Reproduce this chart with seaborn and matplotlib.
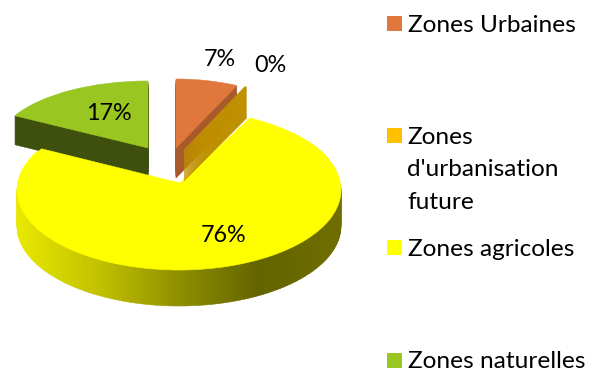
import numpy as np
import matplotlib
matplotlib.use("Agg")
import matplotlib.pyplot as plt
from matplotlib.colors import LinearSegmentedColormap
from matplotlib.patches import Rectangle
from matplotlib.transforms import Affine2D
import seaborn as sns

# ---- data ----
categories = ["Zones Urbaines", "Zones\nd'urbanisation\nfuture", "Zones agricoles", "Zones naturelles"]
values = [7.0, 0.2, 75.8, 17.0]

# ---- style ----
sns.set_theme(style="white")
plt.rcParams["font.family"] = ["Lato", "DejaVu Sans"]
top_colors = sns.color_palette(["#E0783E", "#BF9000", "#FFFF00", "#99C621"])
wall_colors = sns.color_palette(["#A85A2C", "#BF9000", "#8B8B00", "#3F4F0D"])
swatch_colors = sns.color_palette(["#E0783E", "#FFC000", "#FFFF00", "#99C621"])
shade = LinearSegmentedColormap.from_list(
    "wall", [(0.0, "#E8E800"), (0.25, "#C2C200"), (0.5, "#8F8F00"), (0.75, "#636300"), (1.0, "#6E6E00")])

W, H = 596, 372
fig = plt.figure(figsize=(W / 100, H / 100), dpi=100)
ax = fig.add_axes([0, 0, 1, 1])


def place(wedge, cx, cy, rx, ry):
    wedge.set_transform(Affine2D().scale(rx, ry).translate(cx, H - cy) + ax.transData)


def slice_layers(idx, cx, cy, rx, ry, depth):
    """Stack the slice idx of the pie downward to make its side, then lay its top."""
    for k in list(range(depth, 0, -1)) + [0]:
        col = top_colors[idx] if k == 0 else wall_colors[idx]
        wedges, _ = ax.pie(values, startangle=90, counterclock=False, colors=[col] * len(values),
                           wedgeprops=dict(linewidth=0.4, edgecolor=col))
        for j, w in enumerate(wedges):
            if j == idx:
                place(w, cx, cy + k, rx, ry)
            else:
                w.remove()


def agri_wall(cx, cy, rx, ry, depth, n=180):
    """Curved side of the large slice: the slice split in equal parts, shaded from left to right."""
    parts = [values[0] + values[1]] + [values[2] / n] * n + [values[3]]
    for k in range(depth, 0, -1):
        wedges, _ = ax.pie(parts, startangle=90, counterclock=False)
        for j, w in enumerate(wedges):
            mid = np.deg2rad((w.theta1 + w.theta2) / 2)
            if j in (0, n + 1) or np.sin(mid) > 0.05:
                w.remove()
                continue
            col = shade((np.cos(mid) + 1) / 2)
            w.set_facecolor(col)
            w.set_edgecolor(col)
            w.set_linewidth(0.4)
            place(w, cx, cy + k, rx, ry)


# far-left slice first: the big slice overlaps its side
slice_layers(3, 148, 148, 152, 67, 29)

# big slice
agri_wall(179, 190, 162, 80, 36)
slice_layers(2, 179, 190, 162, 80, 0)
# the converging point of the slice sits higher than the ellipse centre (perspective)
slice_layers(2, 180, 183, 158, 71, 0)

# exploded small slices
slice_layers(0, 176, 148, 143, 69, 30)
slice_layers(1, 184, 150, 143, 70, 31)

# data labels
label_xy = [(220, 60), (270, 66), (224, 236), (109, 113)]
for v, (x, y) in zip(values, label_xy):
    ax.text(x, H - y, f"{v:.0f}%", ha="center", va="center", fontsize=16.8, color="black")

# legend entries
swatch_y = [23.5, 135.5, 247.5, 360.5]
text_y = [26, 170, 250, 362]
for name, col, sy, ty in zip(categories, swatch_colors, swatch_y, text_y):
    ax.add_patch(Rectangle((387, H - sy - 7.5), 15, 15, facecolor=col, edgecolor="none"))
    ax.text(407.5, H - ty, name, ha="left", va="center", fontsize=17.6, color="black", linespacing=1.68)

ax.set_aspect("auto")
ax.set_xlim(0, W)
ax.set_ylim(0, H)
ax.set_axis_off()
fig.savefig("out.png", dpi=100, facecolor="white")
